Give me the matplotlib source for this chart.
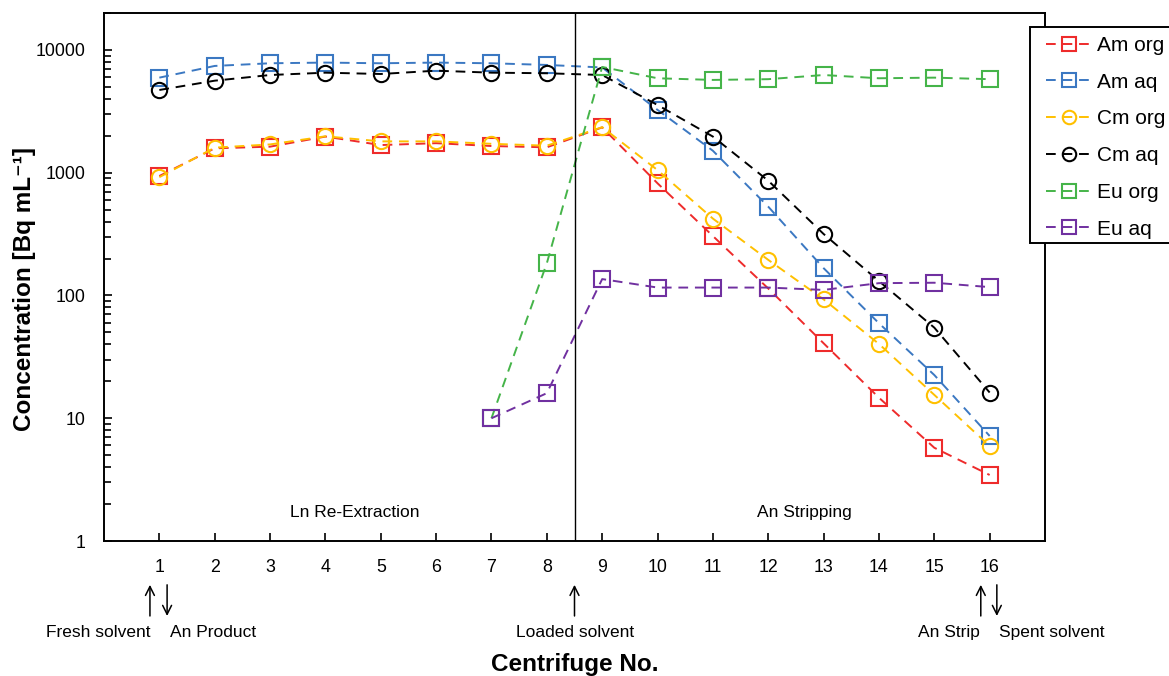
import matplotlib
matplotlib.use("Agg")
import matplotlib.pyplot as plt
from matplotlib.ticker import FixedLocator, LogLocator, NullFormatter, FixedFormatter
from matplotlib.patches import Rectangle
import matplotlib.transforms as mtransforms
import numpy as np

plt.rcParams['font.family'] = ['Liberation Sans', 'DejaVu Sans']

centrifuge = list(range(1, 17))
am_org = [940, 1580, 1630, 1970, 1680, 1740, 1650, 1610, 2340, 820, 305, 114, 40.8, 14.7, 5.75, 3.45]
am_aq = [5950, 7410, 7790, 7890, 7790, 7890, 7790, 7550, 7200, 3250, 1510, 529, 167, 59.4, 22.5, 7.17]
cm_org = [920, 1600, 1700, 1980, 1800, 1800, 1720, 1660, 2350, 1050, 423, 195, 93, 40.3, 15.5, 5.94]
cm_aq = [4720, 5620, 6250, 6530, 6370, 6780, 6530, 6460, 6250, 3560, 1970, 861, 317, 131, 54.7, 16.2]
eu_x = list(range(7, 17))
eu_org = [10, 183, 7270, 5880, 5700, 5780, 6250, 5880, 5950, 5780]
eu_aq = [10, 16, 136, 116, 116, 116, 111, 126, 127, 117]

y_ticks = [1, 10, 100, 1000, 10000]
y_ticklabels = ['1', '10', '100', '1000', '10000']

fig = plt.figure(figsize=(11.69, 6.76), dpi=100)
ax = fig.add_axes([104/1169, 1-541/676, (1045-104)/1169, (541-13)/676])

dash = (5, 3.5)
series = [
    (centrifuge, am_org, 's', '#EE2B2B', 'Am org'),
    (centrifuge, am_aq, 's', '#3B78C2', 'Am aq'),
    (centrifuge, cm_org, 'o', '#FFC000', 'Cm org'),
    (centrifuge, cm_aq, 'o', '#000000', 'Cm aq'),
    (eu_x, eu_org, 's', '#45B449', 'Eu org'),
    (eu_x, eu_aq, 's', '#7030A0', 'Eu aq'),
]
handles = []
for xs, ys, m, c, lab in series:
    h, = ax.plot(xs, ys, linestyle=(0, dash), color=c, lw=1.4, marker=m,
                 markersize=11, markerfacecolor='none',
                 markeredgecolor=c, markeredgewidth=1.5, label=lab)
    handles.append(h)

ax.axvline(8.5, color='black', lw=1.0)

ax.set_yscale('log')
ax.set_ylim(1, 20000)
ax.set_xlim(0, 17)
ax.yaxis.set_major_locator(FixedLocator(y_ticks))
ax.yaxis.set_major_formatter(FixedFormatter(y_ticklabels))
ax.yaxis.set_minor_locator(LogLocator(base=10, subs=np.arange(2, 10)))
ax.yaxis.set_minor_formatter(NullFormatter())
ax.set_xticks(centrifuge)
ax.set_xticklabels([str(i) for i in centrifuge])
ax.tick_params(axis='both', which='major', direction='in', length=6, width=1.2,
               labelsize=12.8, color='black')
ax.tick_params(axis='x', which='major', pad=13)
ax.tick_params(axis='y', which='major', pad=13)
ax.tick_params(axis='y', which='minor', direction='in', length=5, width=1.2)
for s in ax.spines.values():
    s.set_linewidth(1.4)

ax.set_ylabel('Concentration [Bq mL⁻¹]', fontsize=17.5, fontweight='bold')
ax.yaxis.set_label_coords(-0.072, 0.477)
ax.set_xlabel('Centrifuge No.', fontsize=17.5, fontweight='bold')
ax.xaxis.set_label_coords(0.5, -0.212)

ax.text(4.53, 1.7, 'Ln Re-Extraction', ha='center', va='center', fontsize=12.5)
ax.text(12.66, 1.7, 'An Stripping', ha='center', va='center', fontsize=12.5)

trans = mtransforms.blended_transform_factory(ax.transData, ax.transAxes)
y_top, y_bot, y_txt = -0.083, -0.142, -0.173
arrows = [(0.83, 'up'), (1.14, 'down'), (8.5, 'up'), (15.84, 'up'), (16.13, 'down')]
for xa, d in arrows:
    if d == 'up':
        xy, xyt = (xa, y_top), (xa, y_bot)
    else:
        xy, xyt = (xa, y_bot), (xa, y_top)
    ax.annotate('', xy=xy, xytext=xyt, xycoords=trans, textcoords=trans,
                arrowprops=dict(arrowstyle='->', lw=1.1, color='black',
                                mutation_scale=16, shrinkA=0, shrinkB=0),
                annotation_clip=False)
labels = [(-0.108, 'Fresh solvent'), (1.97, 'An Product'), (8.51, 'Loaded solvent'),
          (15.27, 'An Strip'), (17.13, 'Spent solvent')]
for xt, t in labels:
    ax.text(xt, y_txt, t, transform=trans, ha='center', va='center', fontsize=12.5, clip_on=False)

# legend frame (extends beyond figure edge like the original)
frame = Rectangle((1030/1169, 1-243/676), 160/1169, (243-27)/676, transform=fig.transFigure,
                  facecolor='white', edgecolor='black', lw=1.4, zorder=5, clip_on=False)
fig.add_artist(frame)
leg = fig.legend(handles=handles, loc='upper left', bbox_to_anchor=(1046/1169, 1-36/676),
                 bbox_transform=fig.transFigure, fontsize=15, frameon=False,
                 markerscale=0.88, handlelength=2.2, labelspacing=0.85, borderpad=0,
                 handletextpad=0.25, borderaxespad=0)
leg.set_zorder(6)

fig.savefig('out.png', dpi=100)
